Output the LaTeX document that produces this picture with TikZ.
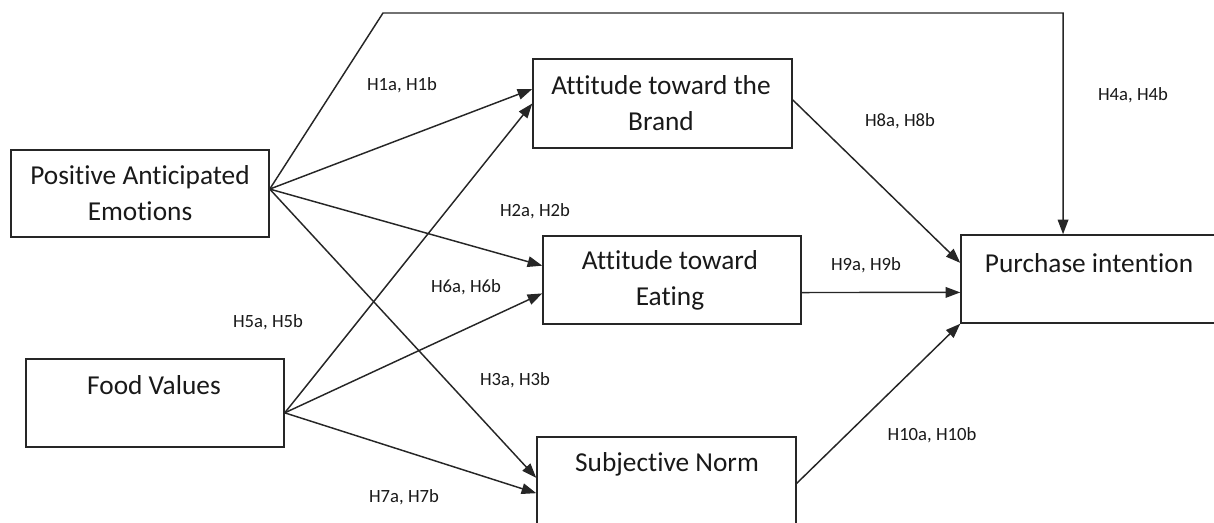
\documentclass[tikz,border=0pt]{standalone}
\usepackage{fontspec}
\setmainfont{Carlito}[Ligatures=NoCommon]
\usetikzlibrary{arrows.meta,fit,calc}
\begin{document}
\begin{tikzpicture}[x=0.75pt,y=-0.75pt,
  box/.style={draw=black!85,line width=1.1pt,inner sep=0pt,fill=none},
  boxtext/.style={font=\fontsize{20.5}{24}\selectfont,text=black!90,inner sep=0pt,align=center},
  hyp/.style={font=\fontsize{14}{16}\selectfont,text=black!90,inner sep=0pt},
  link/.style={draw=black!85,line width=1.1pt,-{Triangle[length=11pt,width=8pt]}}]
\clip (0,0) rectangle (1214,523);
% boxes
\node[box,fit={(11,150) (269,237)}] (pae) {};
\node[box,fit={(26,359) (284,447)}] (fv) {};
\node[box,fit={(533,59) (792,148)}] (brand) {};
\node[box,fit={(543,236) (801,324)}] (eat) {};
\node[box,fit={(537,437) (796,545)}] (sn) {};
\node[box,fit={(961,235) (1230,323)}] (pi) {};
% box texts
\node[boxtext] (paet) at (140,193) {Positive Anticipated\\[3pt]Emotions};
\node[boxtext] (fvt) at (154,385) {Food Values};
\node[boxtext] (brandt) at (661,103) {Attitude toward the\\[3pt]Brand};
\node[boxtext] (eatt) at (670,280) {Attitude toward\\[3pt]Eating};
\node[boxtext] (snt) at (667,464) {Subjective Norm};
\node[boxtext] (pit) at (1089,263) {Purchase intention};
% anchor points
\coordinate (paeE) at ($(pae.north east)!0.45!(pae.south east)$);
\coordinate (fvE) at ($(fv.north east)!0.61!(fv.south east)$);
\coordinate (brandW1) at ($(brand.north west)!0.34!(brand.south west)$);
\coordinate (brandW2) at ($(brand.north west)!0.5!(brand.south west)$);
\coordinate (brandE) at ($(brand.north east)!0.46!(brand.south east)$);
\coordinate (eatW1) at ($(eat.north west)!0.34!(eat.south west)$);
\coordinate (eatW2) at ($(eat.north west)!0.65!(eat.south west)$);
\coordinate (eatE) at ($(eat.north east)!0.64!(eat.south east)$);
\coordinate (snW1) at ($(sn.north west)!0.38!(sn.south west)$);
\coordinate (snW2) at ($(sn.north west)!0.52!(sn.south west)$);
\coordinate (snE) at ($(sn.north east)!0.43!(sn.south east)$);
\coordinate (piW1) at ($(pi.north west)!0.32!(pi.south west)$);
\coordinate (piW2) at ($(pi.north west)!0.65!(pi.south west)$);
\coordinate (piN) at ($(pi.north west)!0.38!(pi.north east)$);
\coordinate (bend) at (383,13);
% connectors
\draw[link] (paeE) -- (brandW1);
\draw[link] (paeE) -- (eatW1);
\draw[link] (paeE) -- (snW1);
\draw[link] (paeE) -- (bend) -| (piN);
\draw[link] (fvE) -- (brandW2);
\draw[link] (fvE) -- (eatW2);
\draw[link] (fvE) -- (snW2);
\draw[link] (brandE) -- (piW1);
\draw[link] (eatE) -- (piW2);
\draw[link] (snE) -- (pi.south west);
% hypothesis labels
\node[hyp] (h1) at (402,85) {H1a, H1b};
\node[hyp] (h2) at (535,211) {H2a, H2b};
\node[hyp] (h3) at (515,380) {H3a, H3b};
\node[hyp] (h4) at (1133,95) {H4a, H4b};
\node[hyp] (h5) at (268,322) {H5a, H5b};
\node[hyp] (h6) at (466,287) {H6a, H6b};
\node[hyp] (h7) at (404,497) {H7a, H7b};
\node[hyp] (h8) at (900,121) {H8a, H8b};
\node[hyp] (h9) at (866,265) {H9a, H9b};
\node[hyp] (h10) at (932,435) {H10a, H10b};
\end{tikzpicture}
\end{document}
